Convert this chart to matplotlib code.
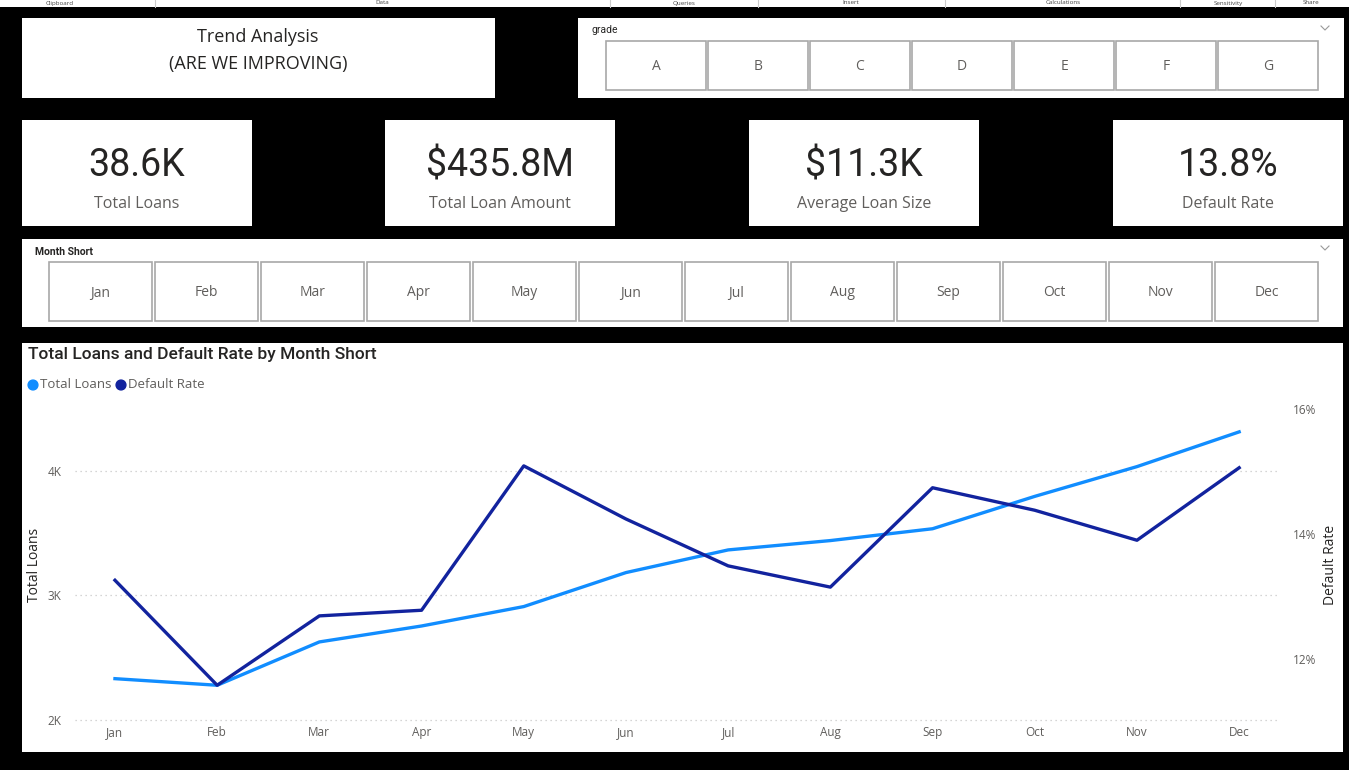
import matplotlib
matplotlib.use("Agg")
import matplotlib.pyplot as plt
from matplotlib.patches import Rectangle
from matplotlib.ticker import FuncFormatter

plt.rcParams["font.family"] = ["Open Sans", "DejaVu Sans"]

# data
months = ["Jan", "Feb", "Mar", "Apr", "May", "Jun", "Jul", "Aug", "Sep", "Oct", "Nov", "Dec"]
total_loans = [2332, 2279, 2627, 2755, 2911, 3184, 3366, 3441, 3536, 3796, 4035, 4314]
default_rate = [13.26, 11.58, 12.69, 12.78, 15.09, 14.24, 13.49, 13.15, 14.74, 14.38, 13.90, 15.06]
grades = ["A", "B", "C", "D", "E", "F", "G"]
card_values = ["38.6K", "$435.8M", "$11.3K", "13.8%"]
card_labels = ["Total Loans", "Total Loan Amount", "Average Loan Size", "Default Rate"]
ribbon = [("Clipboard", 60), ("Data", 382), ("Queries", 684), ("Insert", 851),
          ("Calculations", 1063), ("Sensitivity", 1228), ("Share", 1311)]

LIGHT = "#118DFF"
DARK = "#12239E"
BORDER = "#A8A8A8"
TXT = "#252423"
GREY = "#605E5C"

W, H = 1349, 770
fig = plt.figure(figsize=(W / 100, H / 100), dpi=100)
fig.patch.set_facecolor("black")

bg = fig.add_axes([0, 0, 1, 1])
bg.set_xlim(0, W)
bg.set_ylim(H, 0)
bg.axis("off")


def box(x0, y0, x1, y1, fc="white", ec="none", lw=1.0):
    bg.add_patch(Rectangle((x0, y0), x1 - x0, y1 - y0, facecolor=fc, edgecolor=ec, linewidth=lw))


# ribbon strip at the very top
box(0, 0, W, 7)
for name, x in ribbon:
    bg.text(x, 0.5, name, ha="center", va="top", fontsize=4.5, color="#444444")
for x in [155, 610, 758, 945, 1180, 1275]:
    bg.plot([x, x], [0, 7], color="#cccccc", lw=0.8)

# title box
box(22, 18, 495, 98)
bg.text(258, 37, "Trend Analysis", ha="center", va="center", fontsize=13, color=TXT)
bg.text(258, 64, "(ARE WE IMPROVING)", ha="center", va="center", fontsize=13, color=TXT)

# grade slicer
box(578, 18, 1344, 98)
bg.text(591, 30, "grade", ha="left", va="center", fontsize=7.5, color=TXT, family="Roboto")
bg.plot([1321, 1325, 1329], [26, 30, 26], color="#999999", lw=0.8)
for i, g in enumerate(grades):
    x0 = 606 + i * 102
    box(x0, 41, x0 + 100, 90, ec=BORDER, lw=1.2)
    bg.text(x0 + 50, 67, g, ha="center", va="center", fontsize=10, color=GREY)

# KPI cards
card_x = [22, 385, 749, 1113]
for x0, v, lab in zip(card_x, card_values, card_labels):
    box(x0, 120, x0 + 230, 226)
    bg.text(x0 + 115, 166, v, ha="center", va="center", fontsize=27, color=TXT, family="Roboto")
    bg.text(x0 + 115, 204, lab, ha="center", va="center", fontsize=11.5, color=GREY)

# month slicer
box(22, 239, 1343, 327)
bg.text(35, 252, "Month Short", ha="left", va="center", fontsize=7.5, color=TXT,
        family="Roboto", fontweight="bold")
bg.plot([1321, 1325, 1329], [246, 250, 246], color="#999999", lw=0.8)
for i, m in enumerate(months):
    x0 = 49 + i * 106
    box(x0, 262, x0 + 103, 321, ec=BORDER, lw=1.2)
    bg.text(x0 + 51.5, 293, m, ha="center", va="center", fontsize=10, color=GREY)

# chart panel
box(22, 343, 1343, 752)
bg.text(28, 354, "Total Loans and Default Rate by Month Short", ha="left", va="center",
        fontsize=12.5, color=TXT, family="Roboto", fontweight="medium")
bg.scatter([33, 121], [385, 385], s=50, color=[LIGHT, DARK], zorder=3)
bg.text(40, 385, "Total Loans", ha="left", va="center", fontsize=9.5, color=GREY)
bg.text(128, 385, "Default Rate", ha="left", va="center", fontsize=9.5, color=GREY)
bg.text(35, 565, "Total Loans", ha="center", va="center", rotation=90, fontsize=10, color=TXT)
bg.text(1331, 565, "Default Rate", ha="center", va="center", rotation=90, fontsize=10, color=TXT)

ax = fig.add_axes([75 / W, 1 - 730 / H, (1278 - 75) / W, 330 / H])
ax.patch.set_alpha(0)
x = list(range(len(months)))
ax.plot(x, total_loans, color=LIGHT, lw=2.4, zorder=3)
ax.set_xlim(-0.391, 11.38)
ax.set_ylim(1919.7, 4570)
ax.set_yticks([2000, 3000, 4000])
ax.yaxis.set_major_formatter(FuncFormatter(lambda v, p: f"{v / 1000:.0f}K"))
ax.set_xticks(x)
ax.set_xticklabels(months)
ax.grid(axis="y", color="#C8C8C8", linestyle=(0, (1, 3)), lw=0.9)
ax.tick_params(axis="both", length=0, labelsize=8.5, labelcolor=GREY)
ax.tick_params(axis="y", pad=10)
ax.tick_params(axis="x", pad=-3)
for s in ax.spines.values():
    s.set_visible(False)

ax2 = ax.twinx()
ax2.plot(x, default_rate, color=DARK, lw=2.4, zorder=4)
ax2.set_ylim(10.864, 16.144)
ax2.set_yticks([12, 14, 16])
ax2.yaxis.set_major_formatter(FuncFormatter(lambda v, p: f"{v:.0f}%"))
ax2.tick_params(axis="y", length=0, labelsize=8.5, labelcolor=GREY, pad=11)
for s in ax2.spines.values():
    s.set_visible(False)

fig.savefig("out.png", dpi=100, facecolor=fig.get_facecolor())
